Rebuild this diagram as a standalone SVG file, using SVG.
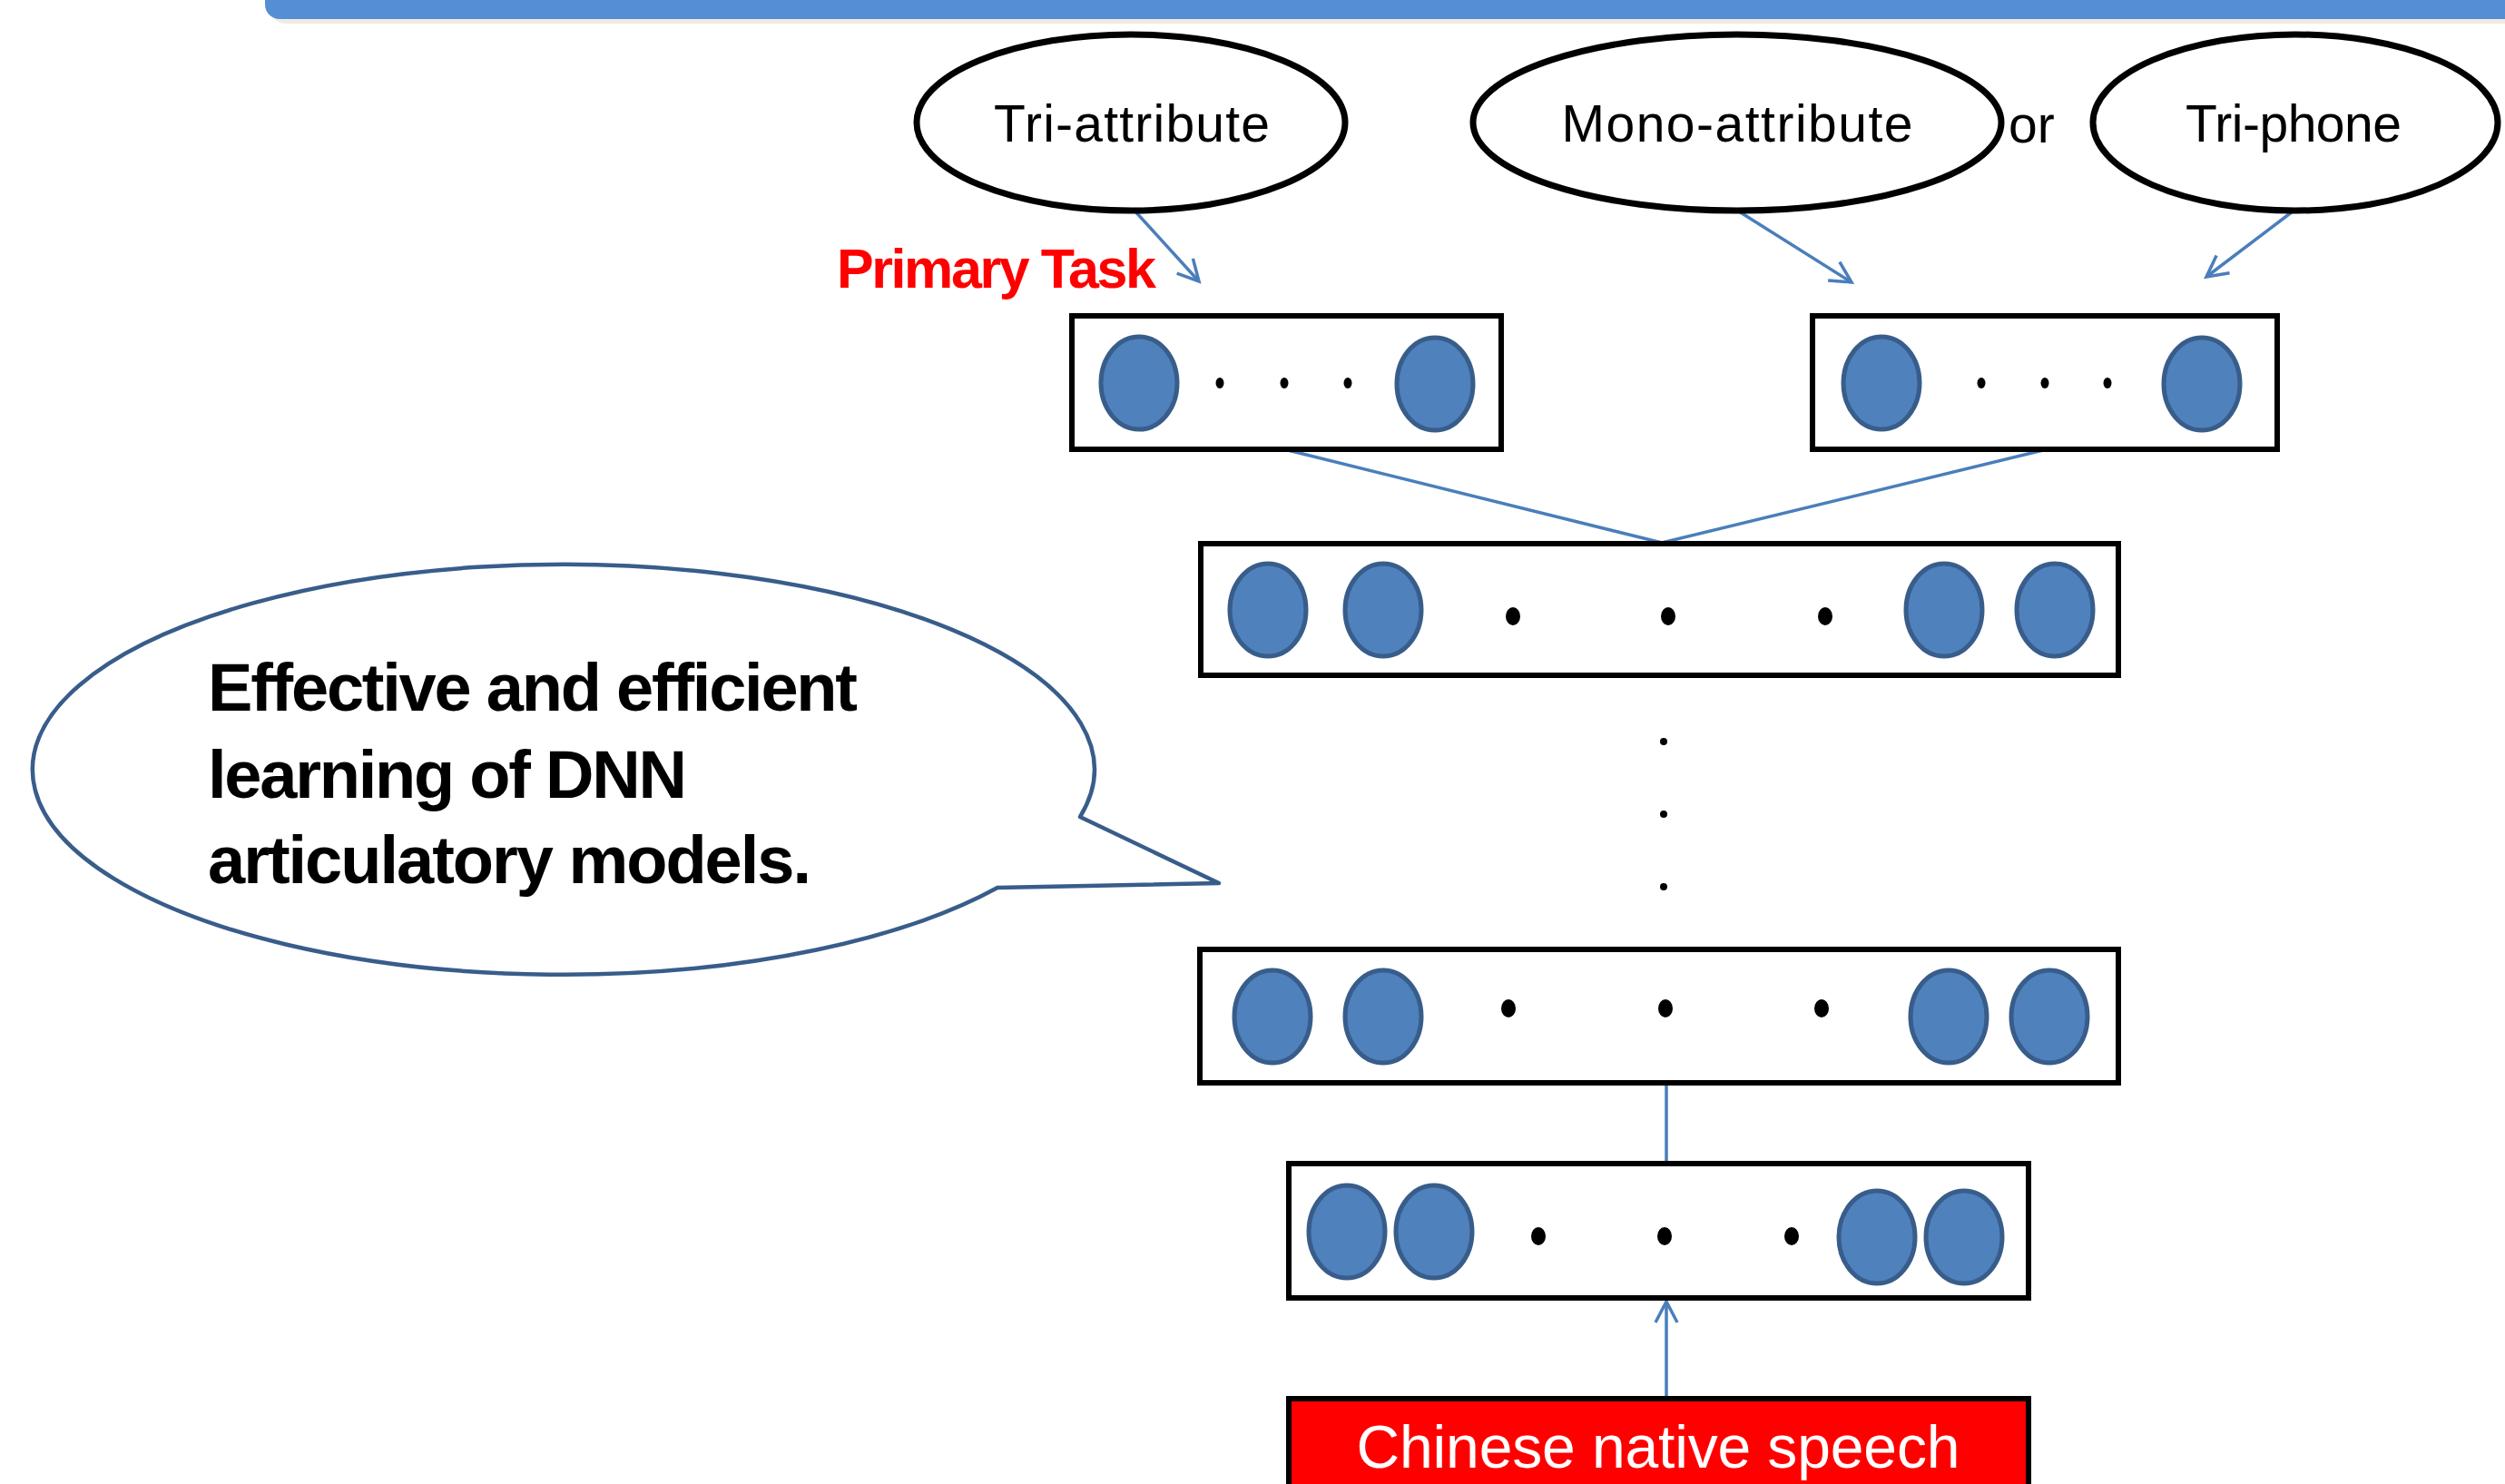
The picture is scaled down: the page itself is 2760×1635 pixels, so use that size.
<svg xmlns="http://www.w3.org/2000/svg" width="2760" height="1635" viewBox="0 0 2760 1635">
<defs>
<style>
.lbl{font-family:"Liberation Sans",Arial,sans-serif;font-size:57px;fill:#000}
.box{fill:#fff;stroke:#000;stroke-width:6}
.oval{fill:none;stroke:#000;stroke-width:7}
.n{fill:#4F81BD;stroke:#385D8A;stroke-width:5}
.d{fill:#000}
.c{fill:none;stroke:#4A7EBB;stroke-width:3.5}
.bt{font-family:"Liberation Sans",Arial,sans-serif;font-weight:bold;font-size:74px;fill:#000}
</style>
<marker id="ah" viewBox="-2 -2 30 32" refX="24" refY="13" markerWidth="30" markerHeight="32" markerUnits="userSpaceOnUse" orient="auto">
<path d="M1,1 L24,13 L1,25" fill="none" stroke="#4A7EBB" stroke-width="3.5"/>
</marker>
</defs>
<rect width="2760" height="1635" fill="#fff"/>
<g id="banner">
<rect x="298" y="-40" width="2520" height="66" rx="16" fill="#EEECE1"/>
<rect x="292" y="-40" width="2520" height="61" rx="16" fill="#558ED5"/>
</g>
<g id="connectors">
<line class="c" x1="1250" y1="232" x2="1321" y2="310" marker-end="url(#ah)"/>
<line class="c" x1="1916" y1="233" x2="2040" y2="311" marker-end="url(#ah)"/>
<line class="c" x1="2526" y1="233" x2="2431" y2="305" marker-end="url(#ah)"/>
<polyline class="c" points="1419,496 1831,598 2251,496"/>
<line class="c" x1="1836" y1="1193" x2="1836" y2="1281"/>
<line class="c" x1="1836" y1="1540" x2="1836" y2="1434" marker-end="url(#ah)"/>
</g>
<g id="tri-attribute">
<ellipse class="oval" cx="1246" cy="135" rx="236" ry="97"/>
<text class="lbl" x="1247" y="156" text-anchor="middle" textLength="304">Tri-attribute</text>
</g>
<g id="mono-attribute">
<ellipse class="oval" cx="1914" cy="135" rx="291" ry="97"/>
<text class="lbl" x="1914" y="156" text-anchor="middle" textLength="387">Mono-attribute</text>
</g>
<g id="or-label">
<text class="lbl" x="2213" y="157" font-size="60">or</text>
</g>
<g id="tri-phone">
<ellipse class="oval" cx="2529" cy="135" rx="223" ry="97"/>
<text class="lbl" x="2527" y="156" text-anchor="middle" textLength="238">Tri-phone</text>
</g>
<g id="primary-task">
<text x="922" y="317" font-family="Liberation Sans, Arial, sans-serif" font-weight="bold" font-size="61" fill="#FF0000" textLength="352">Primary Task</text>
</g>
<g id="output-left">
<rect class="box" x="1181" y="348" width="473" height="147"/>
<ellipse class="n" cx="1255" cy="422" rx="42" ry="51"/>
<ellipse class="n" cx="1581" cy="423" rx="42" ry="51"/>
<ellipse class="d" cx="1344" cy="422" rx="4.5" ry="6"/>
<ellipse class="d" cx="1415" cy="422" rx="4.5" ry="6"/>
<ellipse class="d" cx="1485" cy="422" rx="4.5" ry="6"/>
</g>
<g id="output-right">
<rect class="box" x="1997" y="348" width="512" height="147"/>
<ellipse class="n" cx="2073" cy="422" rx="42" ry="51"/>
<ellipse class="n" cx="2426" cy="423" rx="42" ry="51"/>
<ellipse class="d" cx="2183" cy="422" rx="4.5" ry="6"/>
<ellipse class="d" cx="2253" cy="422" rx="4.5" ry="6"/>
<ellipse class="d" cx="2322" cy="422" rx="4.5" ry="6"/>
</g>
<g id="hidden-top">
<rect class="box" x="1323" y="599" width="1011" height="145"/>
<ellipse class="n" cx="1397" cy="672" rx="42" ry="51"/>
<ellipse class="n" cx="1524" cy="672" rx="42" ry="51"/>
<ellipse class="n" cx="2142" cy="672" rx="42" ry="51"/>
<ellipse class="n" cx="2264" cy="672" rx="42" ry="51"/>
<ellipse class="d" cx="1667" cy="679" rx="8" ry="10"/>
<ellipse class="d" cx="1838" cy="679" rx="8" ry="10"/>
<ellipse class="d" cx="2011" cy="679" rx="8" ry="10"/>
</g>
<g id="vertical-dots">
<circle class="d" cx="1833" cy="817" r="4"/>
<circle class="d" cx="1833" cy="897" r="4"/>
<circle class="d" cx="1833" cy="977" r="4"/>
</g>
<g id="hidden-bottom">
<rect class="box" x="1322" y="1046" width="1012" height="147"/>
<ellipse class="n" cx="1402" cy="1120" rx="42" ry="51"/>
<ellipse class="n" cx="1524" cy="1120" rx="42" ry="51"/>
<ellipse class="n" cx="2147" cy="1120" rx="42" ry="51"/>
<ellipse class="n" cx="2258" cy="1120" rx="42" ry="51"/>
<ellipse class="d" cx="1662" cy="1111" rx="8" ry="10"/>
<ellipse class="d" cx="1835" cy="1111" rx="8" ry="10"/>
<ellipse class="d" cx="2007" cy="1111" rx="8" ry="10"/>
</g>
<g id="input-layer">
<rect class="box" x="1420" y="1282" width="815" height="148"/>
<ellipse class="n" cx="1484" cy="1357" rx="42" ry="51"/>
<ellipse class="n" cx="1580" cy="1357" rx="42" ry="51"/>
<ellipse class="n" cx="2068" cy="1363" rx="42" ry="51"/>
<ellipse class="n" cx="2164" cy="1363" rx="42" ry="51"/>
<ellipse class="d" cx="1695" cy="1362" rx="8" ry="10"/>
<ellipse class="d" cx="1834" cy="1362" rx="8" ry="10"/>
<ellipse class="d" cx="1974" cy="1362" rx="8" ry="10"/>
</g>
<g id="speech-input">
<rect x="1420" y="1541" width="815" height="120" fill="#FF0000" stroke="#000" stroke-width="6"/>
<text x="1827" y="1617" text-anchor="middle" font-family="Liberation Sans, Arial, sans-serif" font-size="66" fill="#fff" textLength="665">Chinese native speech</text>
</g>
<g id="callout">
<path d="M1190,900 A585,226 0 1 0 1099,978 L1343,973 Z" fill="#fff" stroke="#385D8A" stroke-width="4.5" stroke-linejoin="round"/>
<text class="bt" x="229" y="783" textLength="716">Effective and efficient</text>
<text class="bt" x="229" y="879" textLength="528">learning of DNN</text>
<text class="bt" x="229" y="973" textLength="665">articulatory models.</text>
</g>
</svg>
